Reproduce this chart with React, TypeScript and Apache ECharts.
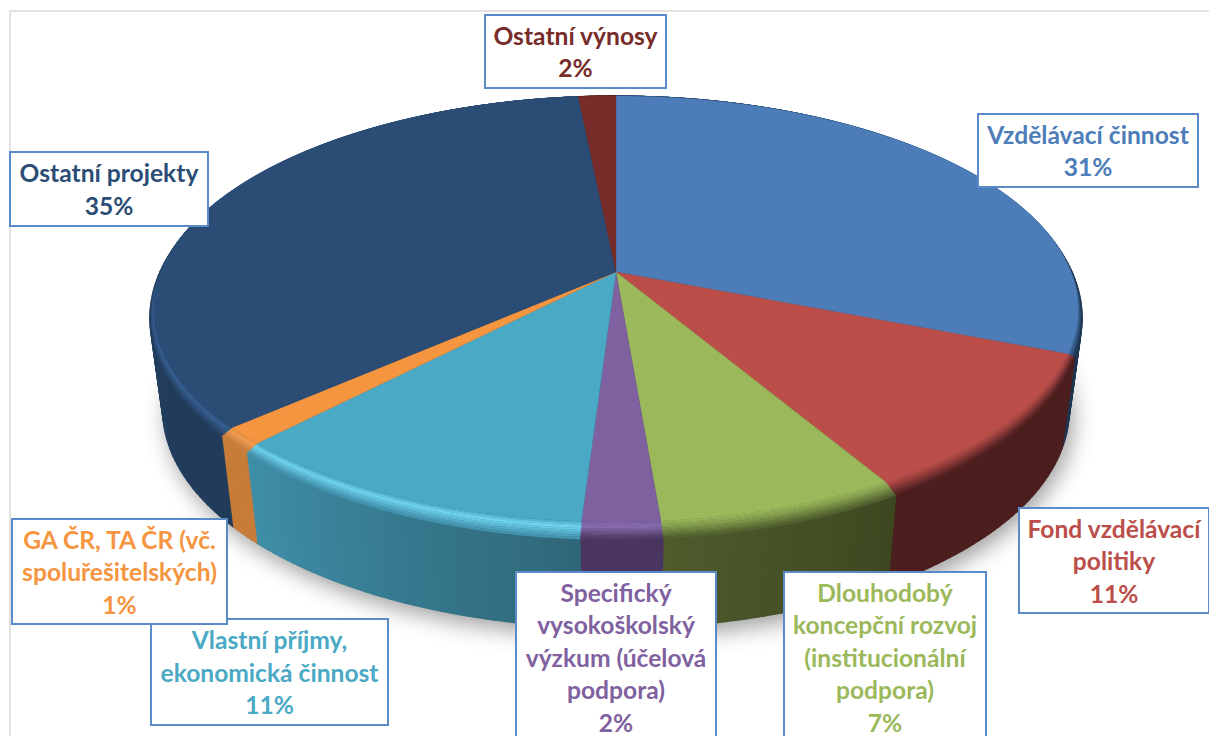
import React, { useEffect, useRef } from "react";
import * as echarts from "echarts";

const categories = [
  "Vzdělávací činnost",
  "Fond vzdělávací\npolitiky",
  "Dlouhodobý\nkoncepční rozvoj\n(institucionální\npodpora)",
  "Specifický\nvysokoškolský\nvýzkum (účelová\npodpora)",
  "Vlastní příjmy,\nekonomická činnost",
  "GA ČR, TA ČR (vč.\nspoluřešitelských)",
  "Ostatní projekty",
  "Ostatní výnosy",
];
const values = [31.05, 10.55, 7.1, 2.3, 11.1, 1.3, 35.05, 1.55];

const faceColors = ["#4c7db8", "#bc4e4a", "#9bb85a", "#7f61a0", "#4aa9c4", "#f5953f", "#2b4d75", "#772c2a"];
const rimColors = ["#3f6797", "#a5423f", "#8aa44f", "#8a6db0", "#72d8f5", "#f7a052", "#376296", "#772c2a"];
const wallFrom = ["#1d3550", "#4d1e1e", "#4e5c2c", "#4a3560", "#3f8fa9", "#c77c38", "#243f60", "#4d1e1e"];
const wallTo = ["#1d3550", "#4d1e1e", "#3d4820", "#4a3560", "#2f6678", "#c77c38", "#223c5c", "#4d1e1e"];

// x, y, width, height of each label box
const labelBoxes = [
  [978, 114, 220, 73],
  [1019, 508, 190, 105],
  [784, 572, 202, 170],
  [516, 572, 200, 170],
  [151, 619, 237, 106],
  [12, 519, 215, 105],
  [10, 152, 198, 74],
  [485, 15, 181, 73],
];

const CX = 616;
const FACE = { A: 455, a: 159.3, b: 272, c: -0.1737 };
const RIM = { A: 456, a: 156.1, b: 272, c: -0.207 };
const BASE = { A: 443.3, a: 133, b: 365, c: -0.207 };

type H = { A: number; a: number; b: number; c: number };
const project = (h: H, th: number): number[] => {
  const u = Math.sin(th);
  const v = -Math.cos(th);
  const d = 1 + h.c * v;
  return [CX + (h.A * u) / d, (h.a * v + h.b) / d];
};

const total = values.reduce((s, v) => s + v, 0);
const sliceRange = (i: number): number[] => {
  let acc = 0;
  for (let k = 0; k < i; k++) acc += values[k];
  return [(acc / total) * Math.PI * 2, ((acc + values[i]) / total) * Math.PI * 2];
};
const arc = (h: H, t0: number, t1: number): number[][] => {
  const n = Math.max(2, Math.ceil(((t1 - t0) * 180) / Math.PI));
  const out: number[][] = [];
  for (let k = 0; k <= n; k++) out.push(project(h, t0 + ((t1 - t0) * k) / n));
  return out;
};
const mix = (h0: H, h1: H, t: number): H => ({
  A: h0.A + (h1.A - h0.A) * t,
  a: h0.a + (h1.a - h0.a) * t,
  b: h0.b + (h1.b - h0.b) * t,
  c: h0.c + (h1.c - h0.c) * t,
});

const FONT = "bold 24.6px Lato";
const STRIPS = 8;

const seriesData = values.map((v) => [v]);

function renderShadow(params: any) {
  if (params.dataIndex !== 0) return { type: "group", children: [] };
  return {
    type: "polygon",
    shape: { points: arc(BASE, 0, Math.PI * 2) },
    style: {
      fill: "#2a3a4c",
      shadowBlur: 22,
      shadowColor: "rgba(0,0,0,0.38)",
      shadowOffsetY: 8,
      shadowOffsetX: 4,
    },
  };
}

function renderWall(params: any) {
  const i = params.dataIndex;
  const [t0, t1] = sliceRange(i);
  const top = arc(RIM, t0, t1);
  const bottom = arc(BASE, t0, t1);
  const children: any[] = [];
  for (let k = 0; k < top.length - 1; k++) {
    const color = echarts.color.lerp((k + 0.5) / (top.length - 1), [wallTo[i], wallFrom[i]]);
    children.push({
      type: "polygon",
      shape: { points: [top[k], top[k + 1], bottom[k + 1], bottom[k]] },
      style: { fill: color, stroke: color, lineWidth: 1.4 },
    });
  }
  return { type: "group", children };
}

function renderRim(params: any) {
  const i = params.dataIndex;
  const [t0, t1] = sliceRange(i);
  const children: any[] = [];
  for (let s = 0; s < STRIPS; s++) {
    const tA = s / STRIPS;
    const tB = (s + 1) / STRIPS;
    const pts = [...arc(mix(FACE, RIM, tA), t0, t1), ...arc(mix(FACE, RIM, tB), t0, t1).reverse()];
    const tm = (s + 0.5) / STRIPS;
    const color =
      tm < 0.3
        ? echarts.color.lerp(tm / 0.3, [faceColors[i], rimColors[i]])
        : echarts.color.lerp((tm - 0.3) / 0.7, [rimColors[i], i === 4 ? "#3f8fa9" : wallFrom[i]]);
    children.push({ type: "polygon", shape: { points: pts }, style: { fill: color, stroke: color, lineWidth: 0.4 } });
  }
  return { type: "group", children };
}

function renderFace(params: any) {
  const i = params.dataIndex;
  const [t0, t1] = sliceRange(i);
  const pts = [[CX, FACE.b], ...arc(FACE, t0, t1)];
  return { type: "polygon", shape: { points: pts }, style: { fill: faceColors[i], stroke: faceColors[i], lineWidth: 0.3 } };
}

function renderLabel(params: any, api: any) {
  const i = params.dataIndex;
  const [x, y, w, h] = labelBoxes[i];
  const pct = Math.round((api.value(0) / total) * 100);
  return {
    type: "group",
    children: [
      { type: "rect", shape: { x, y, width: w, height: h }, style: { fill: "#fff", stroke: "#5b8bc6", lineWidth: 2 } },
      {
        type: "text",
        x: x + w / 2,
        y: y + h / 2,
        style: {
          text: `${categories[i]}\n${pct}%`,
          font: FONT,
          fill: faceColors[i],
          align: "center",
          verticalAlign: "middle",
          lineHeight: 32.5,
        },
      },
    ],
  };
}

const layer = (renderItem: any, z: number) => ({
  type: "custom",
  coordinateSystem: "none",
  renderItem,
  data: seriesData,
  silent: true,
  clip: false,
  z,
  animation: false,
});

export default function App() {
  const ref = useRef<HTMLDivElement>(null);
  useEffect(() => {
    const chart = echarts.init(ref.current!, undefined, { renderer: "svg" });
    chart.setOption({
      animation: false,
      backgroundColor: "#fff",
      graphic: [
        { type: "line", z: 0, shape: { x1: 9, y1: 11, x2: 1209, y2: 11 }, style: { stroke: "#e2e2e2", lineWidth: 2 } },
        { type: "line", z: 0, shape: { x1: 10, y1: 11, x2: 10, y2: 736 }, style: { stroke: "#e2e2e2", lineWidth: 2 } },
      ],
      series: [
        layer(renderShadow, 1),
        layer(renderWall, 2),
        layer(renderRim, 3),
        layer(renderFace, 4),
        layer(renderLabel, 5),
      ],
    });
    return () => chart.dispose();
  }, []);
  return <div ref={ref} style={{ position: "fixed", left: 0, top: 0, width: 1209, height: 736 }} />;
}
